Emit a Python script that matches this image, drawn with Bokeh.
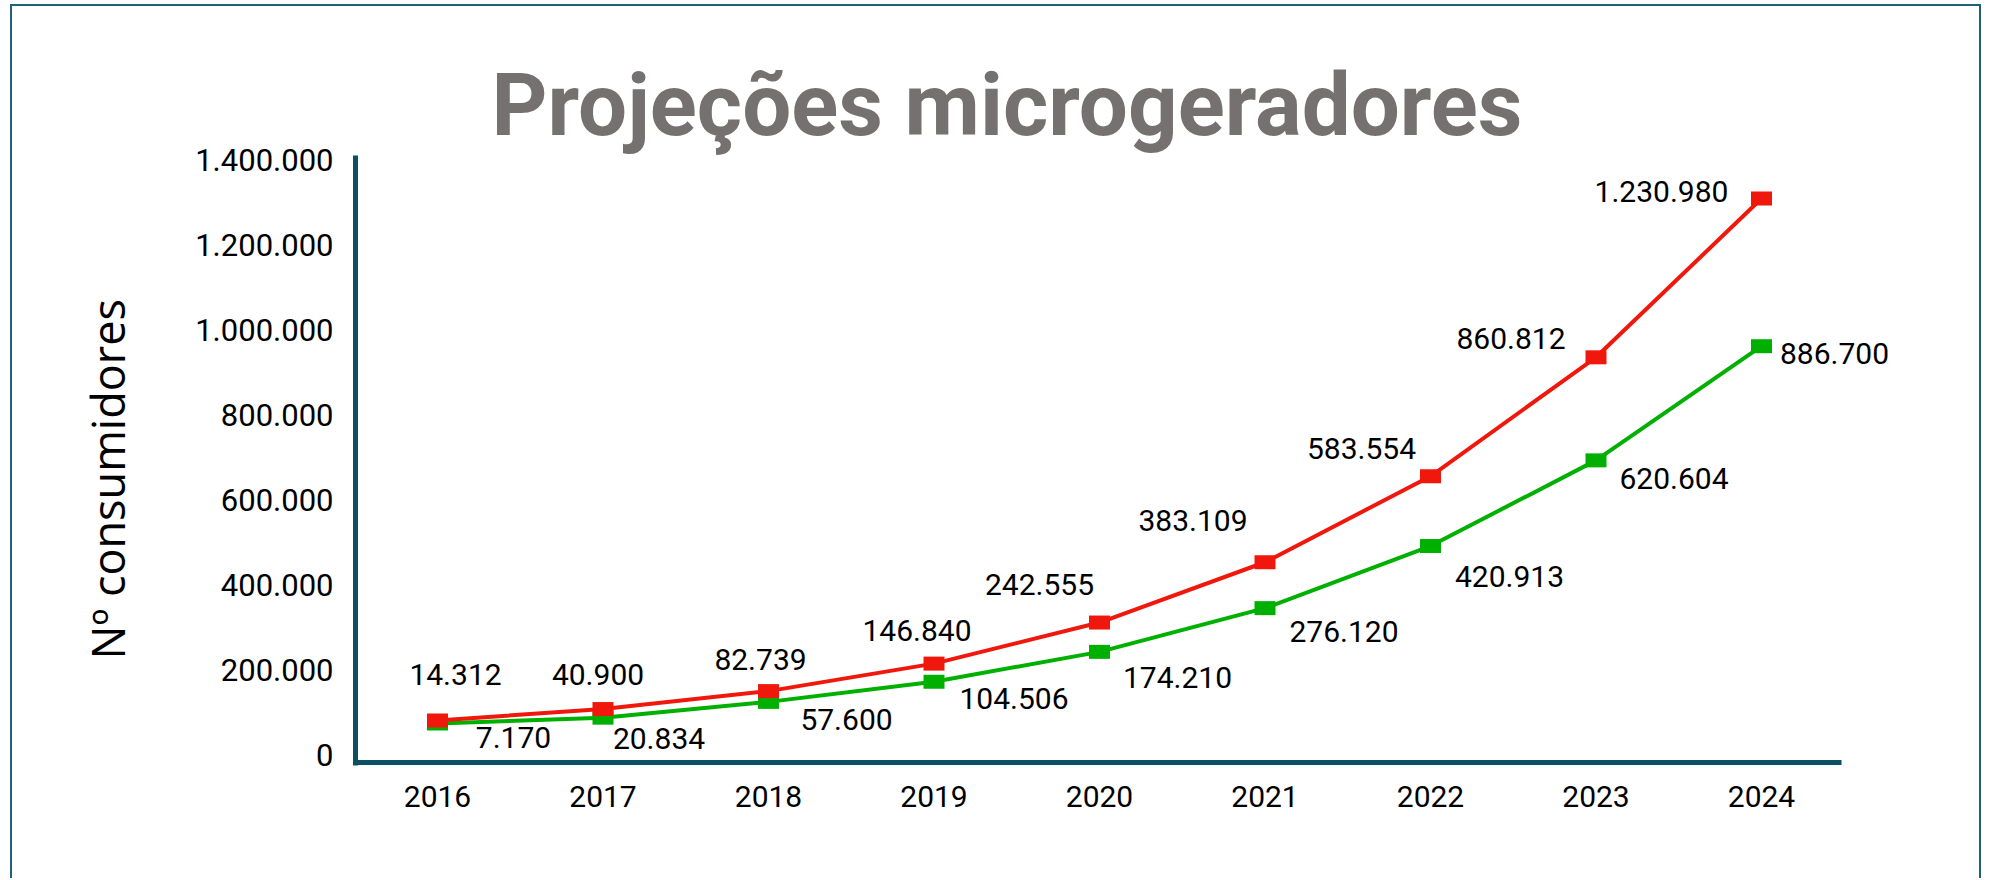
from bokeh.plotting import figure
from bokeh.models import Range1d, LinearAxis, FixedTicker, ColumnDataSource, Title
from bokeh.embed import file_html
from bokeh.resources import INLINE
from bokeh.core.properties import value

# ---------------- data ----------------
years = [2016, 2017, 2018, 2019, 2020, 2021, 2022, 2023, 2024]
year_labels = ["2016", "2017", "2018", "2019", "2020", "2021", "2022", "2023", "2024"]
red_values = [14312, 40900, 82739, 146840, 242555, 383109, 583554, 860812, 1230980]
green_values = [7170, 20834, 57600, 104506, 174210, 276120, 420913, 620604, 886700]
y_ticks = [0, 200000, 400000, 600000, 800000, 1000000, 1200000, 1400000]
y_tick_labels = ["0", "200.000", "400.000", "600.000", "800.000",
                 "1.000.000", "1.200.000", "1.400.000"]
title_text = "Projeções microgeradores"
y_title = "Nº consumidores"


def fmt(v):
    return f"{v:,}".replace(",", ".")


# ---------------- layout (page pixels) ----------------
ORIGIN_X, ORIGIN_Y = 12, 6          # canvas top-left on the page (after css margin+border)
W, H = 1971, 874
FRAME_L, FRAME_R, FRAME_T, FRAME_B = 355, 1905, 155, 765
X_FIRST_PX, X_STEP_PX = 437.0, 165.5
Y_ZERO_PX, Y_PX_PER_UNIT = 726.1, 0.000429
TICK_ZERO_PX, TICK_PX_PER_UNIT = 754.0, 0.000425
XAXIS_Y_PX, XAXIS_L_PX, XAXIS_R_PX = 762, 350, 1841


def px_to_x(px):
    return years[0] + (px - X_FIRST_PX) / X_STEP_PX


def py_to_y(py):
    return (Y_ZERO_PX - py) / Y_PX_PER_UNIT


x_range = Range1d(px_to_x(FRAME_L), px_to_x(FRAME_R))
y_range = Range1d(py_to_y(FRAME_B), py_to_y(FRAME_T))
tick_range = Range1d((TICK_ZERO_PX - FRAME_B) / TICK_PX_PER_UNIT,
                     (TICK_ZERO_PX - FRAME_T) / TICK_PX_PER_UNIT)

AXIS_COLOR = "#0b4f63"
BORDER_COLOR = "#1f6275"
RED = "#f0180c"
GREEN = "#00b000"
LABEL_FONT = "Roboto"

p = figure(width=W, height=H, x_range=x_range, y_range=y_range,
           output_backend="svg", toolbar_location=None,
           x_axis_location=None, y_axis_location=None,
           min_border_left=FRAME_L - ORIGIN_X,
           min_border_right=W - (FRAME_R - ORIGIN_X),
           min_border_top=FRAME_T - ORIGIN_Y,
           min_border_bottom=H - (FRAME_B - ORIGIN_Y),
           styles={"margin-left": "10px", "margin-top": "4px",
                   "border-left": f"2px solid {BORDER_COLOR}",
                   "border-top": f"2px solid {BORDER_COLOR}",
                   "border-right": f"2px solid {BORDER_COLOR}"})
p.outline_line_color = None
p.grid.grid_line_color = None
p.background_fill_color = "white"
p.border_fill_color = "white"
p.extra_y_ranges = {"ticks": tick_range}

# title
p.title.text = title_text
p.title.align = "left"
p.title.offset = 136
p.title.standoff = 0
p.title.text_font = "Roboto"
p.title.text_font_style = "bold"
p.title.text_font_size = "87px"
p.title.text_color = "#767171"

# axes
xaxis = LinearAxis(ticker=FixedTicker(ticks=years),
                   major_label_overrides=dict(zip(years, year_labels)))
yaxis = LinearAxis(y_range_name="ticks", ticker=FixedTicker(ticks=y_ticks),
                   major_label_overrides=dict(zip(y_ticks, y_tick_labels)))
for ax, size, standoff in ((xaxis, "30px", 20), (yaxis, "31px", 22)):
    ax.major_tick_line_color = None
    ax.minor_tick_line_color = None
    ax.major_tick_out = 0
    ax.major_tick_in = 0
    ax.major_label_text_font = LABEL_FONT
    ax.major_label_text_font_size = size
    ax.major_label_text_color = "black"
    ax.major_label_standoff = standoff
xaxis.axis_line_color = None
yaxis.axis_line_color = AXIS_COLOR
yaxis.axis_line_width = 5
p.add_layout(xaxis, "below")
p.add_layout(yaxis, "left")

# vertical axis title, placed as a side title so it can sit below the frame centre
p.add_layout(Title(text=y_title, align="left", offset=106, standoff=110,
                   vertical_align="bottom", text_font="Open Sans",
                   text_font_style="normal", text_font_size="45px",
                   text_color="black"), "left")

# horizontal axis line (ends before the right part of the frame, as in the original)
p.segment(x0=[px_to_x(XAXIS_L_PX)], x1=[px_to_x(XAXIS_R_PX)],
          y0=[py_to_y(XAXIS_Y_PX)], y1=[py_to_y(XAXIS_Y_PX)],
          line_color=AXIS_COLOR, line_width=5)

# data sources
green_dx = [76, 56, 78, 80, 78, 79, 79, 78, 73]
green_dy = [14, 21, 18, 17, 26, 23, 30, 18, 7]
red_dx = [18, -5, -8, -17, -60, -72, -69, -85, -100]
red_dy = [-46, -35, -32, -33, -38, -42, -28, -19, -7]

gsrc = ColumnDataSource(dict(x=years, y=green_values,
                             label=[fmt(v) for v in green_values],
                             dx=green_dx, dy=green_dy))
rsrc = ColumnDataSource(dict(x=years, y=red_values,
                             label=[fmt(v) for v in red_values],
                             dx=red_dx, dy=red_dy))

p.line("x", "y", source=gsrc, line_color=GREEN, line_width=4)
p.rect("x", "y", width=21, height=14, width_units="screen", height_units="screen",
       source=gsrc, fill_color=GREEN, line_color=None)
p.line("x", "y", source=rsrc, line_color=RED, line_width=4)
p.rect("x", "y", width=21, height=14, width_units="screen", height_units="screen",
       source=rsrc, fill_color=RED, line_color=None)

for src in (gsrc, rsrc):
    p.text("x", "y", text="label", source=src, x_offset="dx", y_offset="dy",
           text_font=value(LABEL_FONT), text_font_size="30px", text_color="black",
           text_align="center", text_baseline="middle")

open("out.html", "w").write(file_html(p, INLINE))
